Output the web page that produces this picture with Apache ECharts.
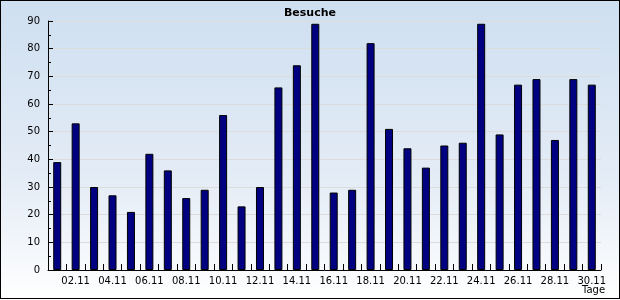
<!DOCTYPE html>
<html><head><meta charset="utf-8">
<script src="https://cdn.jsdelivr.net/npm/echarts@6/dist/echarts.min.js"></script>
<style>html,body{margin:0;padding:0;}#c{width:620px;height:300px;}</style>
</head><body><div id="c"></div>
<script>
const categories = ['01.11','02.11','03.11','04.11','05.11','06.11','07.11','08.11','09.11','10.11','11.11','12.11','13.11','14.11','15.11','16.11','17.11','18.11','19.11','20.11','21.11','22.11','23.11','24.11','25.11','26.11','27.11','28.11','29.11','30.11'];
const visits = [39,53,30,27,21,42,36,26,29,56,23,30,66,74,89,28,29,82,51,44,37,45,46,89,49,67,69,47,69,67];
const yTicks = [0,10,20,30,40,50,60,70,80,90];

const chart = echarts.init(document.getElementById('c'), null, {renderer:'canvas'});
chart.setOption({
  animation:false,
  backgroundColor:{type:'linear',x:0,y:0,x2:0,y2:1,colorStops:[{offset:0,color:'#cedff0'},{offset:0.6,color:'#e4ecf6'},{offset:1,color:'#ffffff'}]},
  title:[
    {text:'Besuche',left:'center',top:3,textStyle:{fontFamily:'DejaVu Sans',fontSize:11,fontWeight:'bold',color:'#000'}},
    {text:'Tage',left:577,top:280,textStyle:{fontFamily:'DejaVu Sans',fontSize:10,fontWeight:'normal',color:'#000'}}
  ],
  grid:{left:48,right:19,top:21,bottom:30},
  xAxis:{type:'category',data:categories,
    axisLine:{lineStyle:{color:'#000',width:1}},
    axisTick:{show:true,inside:true,length:6,interval:0,lineStyle:{color:'#000'}},
    axisLabel:{interval:(i)=>i%2===1,fontFamily:'DejaVu Sans',fontSize:10,color:'#000',margin:6},
    splitLine:{show:false}},
  yAxis:{type:'value',min:0,max:90,interval:10,
    axisLine:{show:true,lineStyle:{color:'#000',width:1}},
    axisTick:{show:true,inside:true,length:5,lineStyle:{color:'#000'}},
    minorTick:{show:true,splitNumber:2,length:3,lineStyle:{color:'#000'}},
    axisLabel:{fontFamily:'DejaVu Sans',fontSize:10,color:'#000',margin:8,
      formatter:(v)=>yTicks.includes(v)?String(v):''},
    splitLine:{show:true,lineStyle:{color:'#dcdcdc',width:1}}},
  series:[{type:'bar',data:visits,barWidth:8,
    itemStyle:{color:'#000080',borderColor:'#000',borderWidth:1}}]
});
</script>
<div style="position:absolute;left:0;top:0;width:618px;height:297px;border:1px solid #000;pointer-events:none;"></div>
</body></html>
